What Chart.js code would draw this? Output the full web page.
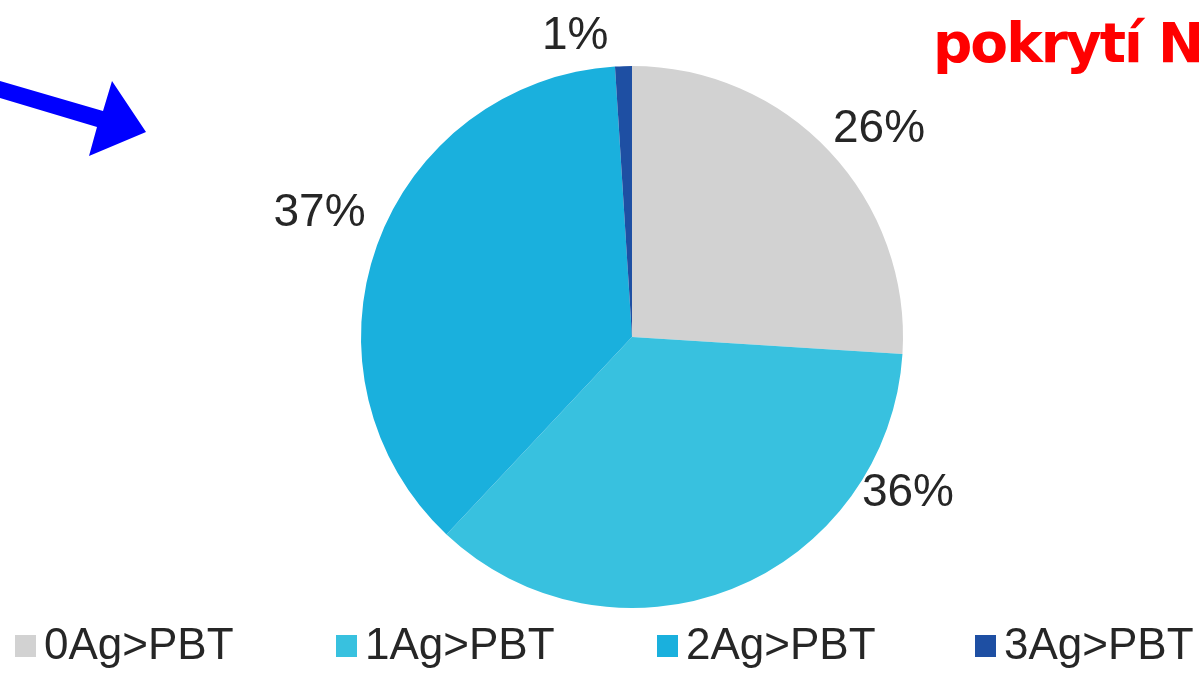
<!DOCTYPE html>
<html><head><meta charset="utf-8">
<script src="https://cdn.jsdelivr.net/npm/chart.js@4/dist/chart.umd.min.js"></script>
<style>html,body{margin:0;padding:0;background:#fff;}#wrap{width:1203px;height:674px;position:relative;}</style>
</head><body><div id="wrap"><canvas id="c" width="1203" height="674"></canvas></div>
<script>
const categories = ["0Ag>PBT", "1Ag>PBT", "2Ag>PBT", "3Ag>PBT"];
const values = [26, 36, 37, 1];
const valueLabels = ["26%", "36%", "37%", "1%"];
const sliceColors = ["#D2D2D2", "#38C1DF", "#1AB0DD", "#1E4FA3"];
const annotationText = "pokrytí N";

const decor = {
  id: 'decor',
  afterDraw(chart) {
    const ctx = chart.ctx;
    const meta = chart.getDatasetMeta(0);
    // percentage labels placed around the arcs
    const shifts = [3.2, -38.9, 1.8, -8.9];
    const dists = [1.19, 1.17, 1.24, 1.13];
    ctx.save();
    ctx.font = '46px "Liberation Sans", Arial, sans-serif';
    ctx.fillStyle = '#262626';
    ctx.textAlign = 'center';
    ctx.textBaseline = 'middle';
    meta.data.forEach((arc, i) => {
      const mid = (arc.startAngle + arc.endAngle) / 2 + shifts[i] * Math.PI / 180;
      const r = arc.outerRadius * dists[i];
      ctx.fillText(valueLabels[i], arc.x + Math.cos(mid) * r, arc.y + Math.sin(mid) * r);
    });
    // legend
    const legendX = [15, 336, 657, 975];
    ctx.font = '44px "Liberation Sans", Arial, sans-serif';
    ctx.textAlign = 'left';
    categories.forEach((c, i) => {
      ctx.fillStyle = sliceColors[i];
      ctx.fillRect(legendX[i], 635, 21, 22);
      ctx.fillStyle = '#262626';
      ctx.fillText(c, legendX[i] + 29, 647);
    });
    // annotation text
    ctx.font = 'bold 55px "DejaVu Sans", sans-serif';
    try { ctx.letterSpacing = '-2px'; } catch (e) {}
    ctx.fillStyle = '#FF0000';
    ctx.textBaseline = 'alphabetic';
    ctx.fillText(annotationText, 933, 62);
    try { ctx.letterSpacing = '0px'; } catch (e) {}
    // blue arrow
    ctx.fillStyle = '#0000FF';
    ctx.beginPath();
    ctx.moveTo(0, 81);
    ctx.lineTo(103, 111);
    ctx.lineTo(112, 81);
    ctx.lineTo(146, 132);
    ctx.lineTo(89, 156);
    ctx.lineTo(97, 127);
    ctx.lineTo(0, 98);
    ctx.closePath();
    ctx.fill();
    ctx.restore();
  }
};

new Chart(document.getElementById('c'), {
  type: 'pie',
  data: {
    labels: categories,
    datasets: [{ data: values, backgroundColor: sliceColors, borderWidth: 0 }]
  },
  options: {
    responsive: false,
    animation: false,
    layout: { padding: { left: 361, right: 300, top: 66, bottom: 66 } },
    plugins: { legend: { display: false }, tooltip: { enabled: false } }
  },
  plugins: [decor]
});
</script></body></html>
